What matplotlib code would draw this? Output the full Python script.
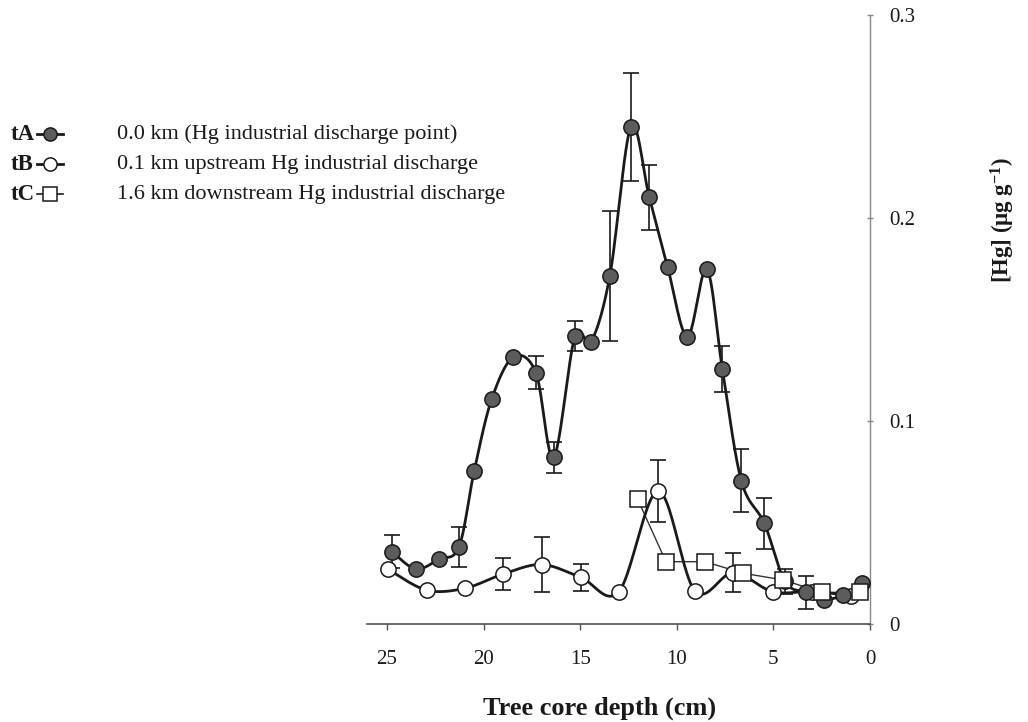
import numpy as np
import matplotlib
matplotlib.use("Agg")
import matplotlib.pyplot as plt
from matplotlib.lines import Line2D

plt.rcParams['font.family'] = ['Liberation Serif', 'DejaVu Serif']
plt.rcParams['mathtext.fontset'] = 'custom'
plt.rcParams['mathtext.rm'] = 'Liberation Serif'
plt.rcParams['mathtext.bf'] = 'Liberation Serif:bold'
plt.rcParams['mathtext.it'] = 'Liberation Serif:italic'

# Tree core tA: 0.0 km (discharge point)
tA_depth = [24.74, 23.5, 22.3, 21.27, 20.48, 19.58, 18.46, 17.29, 16.37, 15.27,
            14.44, 13.46, 12.37, 11.42, 10.47, 9.45, 8.45, 7.64, 6.66, 5.47,
            4.4, 3.31, 2.4, 1.38, 0.41]
tA_hg = [0.0356, 0.0271, 0.032, 0.038, 0.0755, 0.1107, 0.1315, 0.1238, 0.0821, 0.1419,
         0.139, 0.1716, 0.245, 0.2102, 0.1757, 0.1415, 0.1749, 0.1256, 0.0706, 0.0496,
         0.021, 0.0156, 0.012, 0.0143, 0.020]
tA_err = [0.0082, 0, 0, 0.010, 0, 0, 0, 0.008, 0.0076, 0.0074,
          0, 0.032, 0.0266, 0.016, 0, 0, 0, 0.0115, 0.0155, 0.0125,
          0.006, 0.008, 0, 0, 0]

# Tree core tB: 0.1 km upstream
tB_depth = [24.93, 22.95, 20.96, 18.98, 16.99, 14.97, 13.0, 10.96, 9.06, 7.07, 5.03, 3.0, 1.0]
tB_hg = [0.0269, 0.0167, 0.0176, 0.0246, 0.0293, 0.023, 0.0159, 0.0655, 0.0163, 0.0253,
         0.0159, 0.016, 0.014]
tB_err = [0, 0, 0, 0.008, 0.0134, 0.0065, 0, 0.0154, 0, 0.0096, 0, 0, 0]

# Tree core tC: 1.6 km downstream
tC_depth = [12.02, 10.56, 8.54, 6.56, 4.49, 2.5, 0.52]
tC_hg = [0.0614, 0.0307, 0.0307, 0.025, 0.0217, 0.0156, 0.0156]

x_ticks = [25, 20, 15, 10, 5, 0]
y_ticks = [0, 0.1, 0.2, 0.3]
y_ticklabels = ['0', '0.1', '0.2', '0.3']

legend_keys = ['tA', 'tB', 'tC']
legend_texts = ['0.0 km (Hg industrial discharge point)',
                '0.1 km upstream Hg industrial discharge',
                '1.6 km downstream Hg industrial discharge']

INK = '#1a1a1a'
GREY_FILL = '#5c5c5c'


def smooth(x, y, n=24):
    """Catmull-Rom spline through the points (smoothed line)."""
    p = np.column_stack([x, y]).astype(float)
    p = np.vstack([p[0], p, p[-1]])
    out = []
    t = np.linspace(0, 1, n, endpoint=False)[:, None]
    for i in range(1, len(p) - 2):
        p0, p1, p2, p3 = p[i - 1], p[i], p[i + 1], p[i + 2]
        seg = 0.5 * ((2 * p1) + (-p0 + p2) * t + (2 * p0 - 5 * p1 + 4 * p2 - p3) * t ** 2
                     + (-p0 + 3 * p1 - 3 * p2 + p3) * t ** 3)
        out.append(seg)
    out.append(p[-2][None, :])
    out = np.vstack(out)
    return out[:, 0], out[:, 1]


W, H = 1028, 722
fig = plt.figure(figsize=(W / 100, H / 100), dpi=100)
ax = fig.add_axes([367 / W, 98 / H, 503 / W, 609 / H])

ms_c = 11
ms_s = 11.5
lw_main = 2.0


def bars(ax, x, y, e):
    x = np.asarray(x); y = np.asarray(y); e = np.asarray(e)
    m = e > 0
    ax.errorbar(x[m], y[m], yerr=e[m], fmt='none', ecolor=INK, elinewidth=1.2,
                capsize=6, capthick=1.2, zorder=2)


bars(ax, tA_depth, tA_hg, tA_err)
bars(ax, tB_depth, tB_hg, tB_err)

# tC: thin straight segments with open squares
ax.plot(tC_depth, tC_hg, color='#333333', lw=1.0, zorder=3)
ax.plot(tC_depth, tC_hg, ls='none', marker='s', ms=ms_s, mfc='white', mec=INK, mew=1.1, zorder=6)

# tB: smoothed line, open circles
sx, sy = smooth(tB_depth, tB_hg)
ax.plot(sx, sy, color=INK, lw=lw_main, zorder=3)
ax.plot(tB_depth, tB_hg, ls='none', marker='o', ms=ms_c, mfc='white', mec=INK, mew=1.1, zorder=5)

# tA: smoothed line, grey filled circles
sx, sy = smooth(tA_depth, tA_hg)
ax.plot(sx, sy, color=INK, lw=lw_main, zorder=4)
ax.plot(tA_depth, tA_hg, ls='none', marker='o', ms=ms_c, mfc=GREY_FILL, mec=INK, mew=1.1, zorder=5)

ax.set_xlim(26.03, 0)
ax.set_ylim(0, 0.3)

for s in ['top', 'left']:
    ax.spines[s].set_visible(False)
ax.spines['bottom'].set_color('#444444')
ax.spines['bottom'].set_linewidth(1.1)
ax.spines['right'].set_color('#888888')
ax.spines['right'].set_linewidth(1.0)

ax.yaxis.tick_right()
ax.set_xticks(x_ticks)
ax.set_xticklabels([str(v) for v in x_ticks])
ax.set_yticks(y_ticks)
ax.set_yticklabels(y_ticklabels)
ax.tick_params(axis='x', direction='out', length=4, width=1, color='#555555',
               labelsize=15, pad=15, labelcolor=INK)
ax.tick_params(axis='y', direction='inout', length=4, width=1, color='#888888',
               labelsize=15, pad=12, labelcolor=INK)

# Axis titles
fig.text(600 / W, 1 - 708 / H, 'Tree core depth (cm)', ha='center', va='center',
         fontsize=19, fontweight='bold', color=INK)
fig.text(1003 / W, 1 - 220 / H, r'[Hg] ($\mathbf{\mu}$g g$^{\mathbf{-1}}$)',
         rotation=90, ha='center', va='center', fontsize=16.5, fontweight='bold', color=INK)

# Legend drawn by hand in figure coordinates
rows_y = [134, 164, 194]
styles = [dict(marker='o', mfc=GREY_FILL, lw=2.0),
          dict(marker='o', mfc='white', lw=2.0),
          dict(marker='s', mfc='white', lw=1.2)]
for key, txt, yy, st in zip(legend_keys, legend_texts, rows_y, styles):
    yf = 1 - yy / H
    fig.text(11 / W, yf, key, ha='left', va='center', fontsize=16.5, fontweight='bold', color=INK)
    fig.add_artist(Line2D([37 / W, 63 / W], [yf, yf], transform=fig.transFigure,
                          color=INK, lw=st['lw']))
    fig.add_artist(Line2D([50 / W], [yf], transform=fig.transFigure, ls='none',
                          marker=st['marker'], ms=9.5, mfc=st['mfc'], mec=INK, mew=1.1))
    fig.text(117 / W, yf, txt, ha='left', va='center', fontsize=16, color=INK)

fig.savefig('out.png', dpi=100, facecolor='white')
